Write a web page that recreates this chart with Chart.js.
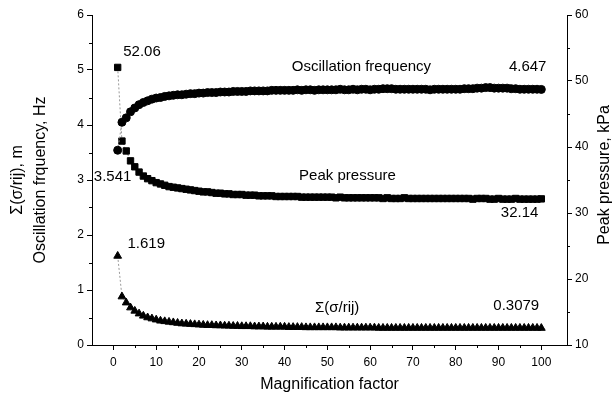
<!DOCTYPE html>
<html>
<head>
<meta charset="utf-8">
<script src="https://cdn.jsdelivr.net/npm/chart.js@4.4.0/dist/chart.umd.min.js"></script>
<style>
  html, body { margin: 0; padding: 0; background: #fff; }
</style>
</head>
<body>
<canvas id="chart" width="615" height="394"></canvas>
<script>
// magnification factor (x)
const magnification = [
  1, 2, 3, 4, 5, 6, 7, 8, 9, 10, 11, 12, 13, 14, 15, 16, 17, 18, 19, 20,
  21, 22, 23, 24, 25, 26, 27, 28, 29, 30, 31, 32, 33, 34, 35, 36, 37, 38, 39, 40,
  41, 42, 43, 44, 45, 46, 47, 48, 49, 50, 51, 52, 53, 54, 55, 56, 57, 58, 59, 60,
  61, 62, 63, 64, 65, 66, 67, 68, 69, 70, 71, 72, 73, 74, 75, 76, 77, 78, 79, 80,
  81, 82, 83, 84, 85, 86, 87, 88, 89, 90, 91, 92, 93, 94, 95, 96, 97, 98, 99, 100
];

// oscillation frequency, Hz (left axis)
const freqHz = [
  3.541, 4.05, 4.13, 4.24, 4.31, 4.37, 4.41, 4.44, 4.47, 4.49,
  4.50, 4.52, 4.53, 4.54, 4.55, 4.55, 4.56, 4.57, 4.57, 4.58,
  4.58, 4.59, 4.59, 4.59, 4.60, 4.60, 4.60, 4.61, 4.61, 4.61,
  4.61, 4.62, 4.62, 4.62, 4.62, 4.62, 4.63, 4.63, 4.63, 4.63,
  4.63, 4.63, 4.64, 4.63, 4.64, 4.64, 4.63, 4.64, 4.64, 4.64,
  4.64, 4.64, 4.65, 4.64, 4.64, 4.65, 4.64, 4.65, 4.65, 4.64,
  4.65, 4.65, 4.66, 4.66, 4.66, 4.65, 4.65, 4.65, 4.65, 4.65,
  4.65, 4.65, 4.65, 4.64, 4.65, 4.65, 4.65, 4.65, 4.65, 4.65,
  4.65, 4.66, 4.66, 4.66, 4.67, 4.67, 4.68, 4.68, 4.67, 4.67,
  4.67, 4.67, 4.66, 4.66, 4.65, 4.65, 4.65, 4.65, 4.65, 4.647
];

// peak pressure, kPa (right axis)
const peakKPa = [
  52.06, 40.9, 39.4, 37.9, 37.0, 36.2, 35.6, 35.2, 34.9, 34.6,
  34.4, 34.2, 34.0, 33.9, 33.8, 33.7, 33.6, 33.5, 33.4, 33.3,
  33.2, 33.2, 33.1, 33.0, 33.0, 32.9, 32.9, 32.8, 32.8, 32.8,
  32.7, 32.7, 32.7, 32.6, 32.6, 32.6, 32.6, 32.5, 32.5, 32.5,
  32.5, 32.5, 32.5, 32.4, 32.4, 32.4, 32.4, 32.4, 32.4, 32.4,
  32.4, 32.3, 32.4, 32.3, 32.3, 32.3, 32.3, 32.3, 32.3, 32.3,
  32.3, 32.3, 32.2, 32.3, 32.2, 32.2, 32.2, 32.3, 32.2, 32.2,
  32.2, 32.2, 32.2, 32.2, 32.2, 32.2, 32.2, 32.2, 32.2, 32.2,
  32.2, 32.2, 32.2, 32.1, 32.2, 32.2, 32.2, 32.1, 32.1, 32.2,
  32.1, 32.1, 32.1, 32.2, 32.1, 32.1, 32.1, 32.1, 32.1, 32.14
];

// sum(sigma/rij), m (left axis)
const sigmaSum = [
  1.619, 0.88, 0.77, 0.68, 0.62, 0.57, 0.53, 0.50, 0.48, 0.46,
  0.44, 0.43, 0.42, 0.41, 0.40, 0.39, 0.385, 0.38, 0.375, 0.37,
  0.365, 0.36, 0.36, 0.355, 0.355, 0.35, 0.35, 0.345, 0.345, 0.34,
  0.34, 0.34, 0.335, 0.335, 0.335, 0.33, 0.33, 0.33, 0.33, 0.33,
  0.325, 0.325, 0.325, 0.325, 0.32, 0.32, 0.32, 0.32, 0.32, 0.32,
  0.32, 0.32, 0.315, 0.315, 0.315, 0.315, 0.315, 0.315, 0.315, 0.315,
  0.315, 0.31, 0.31, 0.31, 0.31, 0.31, 0.31, 0.31, 0.31, 0.31,
  0.31, 0.31, 0.31, 0.31, 0.31, 0.31, 0.31, 0.31, 0.31, 0.31,
  0.31, 0.31, 0.31, 0.31, 0.31, 0.31, 0.31, 0.31, 0.31, 0.31,
  0.31, 0.31, 0.31, 0.31, 0.31, 0.31, 0.31, 0.31, 0.31, 0.3079
];

// ticks
const xTicks = [0, 10, 20, 30, 40, 50, 60, 70, 80, 90, 100];
const xMinor = [5, 15, 25, 35, 45, 55, 65, 75, 85, 95];
const yTicks = [0, 1, 2, 3, 4, 5, 6];
const yMinor = [0.5, 1.5, 2.5, 3.5, 4.5, 5.5];
const y2Ticks = [10, 20, 30, 40, 50, 60];
const y2Minor = [15, 25, 35, 45, 55];

// text notes on the plot (x, left-axis y)
const notes = [
  { text: '52.06', x: 2.3, y: 5.33, align: 'left' },
  { text: '3.541', x: 4.2, y: 3.05, align: 'right' },
  { text: '1.619', x: 3.3, y: 1.84, align: 'left' },
  { text: 'Oscillation frequency', x: 41.7, y: 5.05, align: 'left' },
  { text: '4.647', x: 101.2, y: 5.05, align: 'right' },
  { text: 'Peak pressure', x: 43.4, y: 3.07, align: 'left' },
  { text: '32.14', x: 99.3, y: 2.4, align: 'right' },
  { text: 'Σ(σ/rij)', x: 47.1, y: 0.67, align: 'left' },
  { text: '0.3079', x: 99.5, y: 0.72, align: 'right' }
];

const FONT = '"Liberation Sans", Arial, sans-serif';

function toPoints(values) {
  return values.map((v, i) => ({ x: magnification[i], y: v }));
}

// minor ticks, notes and right axis title
const extrasPlugin = {
  id: 'extras',
  afterDraw(chart) {
    const ctx = chart.ctx;
    const sx = chart.scales.x, sy = chart.scales.y, sy2 = chart.scales.y2;
    ctx.save();
    ctx.strokeStyle = '#000';
    ctx.lineWidth = 1;
    ctx.beginPath();
    xMinor.forEach(v => {
      const px = Math.round(sx.getPixelForValue(v)) + 0.5;
      ctx.moveTo(px, sx.top);
      ctx.lineTo(px, sx.top + 3);
    });
    yMinor.forEach(v => {
      const py = Math.round(sy.getPixelForValue(v)) + 0.5;
      ctx.moveTo(sy.right, py);
      ctx.lineTo(sy.right - 3, py);
    });
    y2Minor.forEach(v => {
      const py = Math.round(sy2.getPixelForValue(v)) + 0.5;
      ctx.moveTo(sy2.left, py);
      ctx.lineTo(sy2.left + 3, py);
    });
    ctx.stroke();

    ctx.fillStyle = '#000';
    ctx.font = '15px ' + FONT;
    ctx.textBaseline = 'middle';
    notes.forEach(n => {
      ctx.textAlign = n.align;
      ctx.fillText(n.text, sx.getPixelForValue(n.x), sy.getPixelForValue(n.y));
    });

    // right axis title reads bottom to top
    const area = chart.chartArea;
    ctx.font = '16px ' + FONT;
    ctx.textAlign = 'center';
    ctx.translate(chart.width - 10, (area.top + area.bottom) / 2 - 5);
    ctx.rotate(-Math.PI / 2);
    ctx.fillText('Peak pressure, kPa', 0, 0);
    ctx.restore();
  }
};

const axisStyle = {
  border: { display: true, color: '#000', width: 1 },
  grid: { drawOnChartArea: false, drawTicks: true, tickLength: 5, color: '#000' },
  ticks: { color: '#000', font: { size: 12, family: FONT }, padding: 3 }
};

new Chart(document.getElementById('chart'), {
  type: 'line',
  data: {
    datasets: [
      {
        label: 'Oscillation frequency',
        data: toPoints(freqHz),
        yAxisID: 'y',
        pointStyle: 'circle',
        pointRadius: 4,
        pointBackgroundColor: '#000',
        pointBorderColor: '#000',
        borderColor: '#999',
        borderWidth: 1,
        borderDash: [2, 2]
      },
      {
        label: 'Peak pressure',
        data: toPoints(peakKPa),
        yAxisID: 'y2',
        pointStyle: 'rect',
        pointRadius: 4.5,
        pointBackgroundColor: '#000',
        pointBorderColor: '#000',
        borderColor: '#999',
        borderWidth: 1,
        borderDash: [2, 2]
      },
      {
        label: 'Σ(σ/rij)',
        data: toPoints(sigmaSum),
        yAxisID: 'y',
        pointStyle: 'triangle',
        pointRadius: 4.5,
        pointBackgroundColor: '#000',
        pointBorderColor: '#000',
        borderColor: '#999',
        borderWidth: 1,
        borderDash: [2, 2]
      }
    ]
  },
  options: {
    responsive: false,
    animation: false,
    layout: { padding: { top: 15, left: 0, right: 0, bottom: 0 } },
    plugins: {
      legend: { display: false },
      tooltip: { enabled: false }
    },
    scales: {
      x: {
        type: 'linear',
        min: -5,
        max: 106,
        ...axisStyle,
        ticks: { ...axisStyle.ticks, padding: 5 },
        afterBuildTicks: s => { s.ticks = xTicks.map(v => ({ value: v })); },
        afterFit: s => { s.height = 49; },
        title: {
          display: true,
          text: 'Magnification factor',
          color: '#000',
          font: { size: 16, family: FONT, lineHeight: 1.15 },
          padding: { top: 0, bottom: 0 }
        }
      },
      y: {
        position: 'left',
        min: 0,
        max: 6,
        ...axisStyle,
        afterBuildTicks: s => { s.ticks = yTicks.map(v => ({ value: v })); },
        afterFit: s => { s.width = 92; },
        title: {
          display: true,
          text: ['Σ(σ/rij), m', 'Oscillation frquency, Hz'],
          color: '#000',
          font: { size: 16, family: FONT, lineHeight: 1.45 },
          padding: { top: 6, bottom: 0 }
        }
      },
      y2: {
        position: 'right',
        min: 10,
        max: 60,
        ...axisStyle,
        afterBuildTicks: s => { s.ticks = y2Ticks.map(v => ({ value: v })); },
        afterFit: s => { s.width = 48; }
      }
    }
  },
  plugins: [extrasPlugin]
});
</script>
</body>
</html>
